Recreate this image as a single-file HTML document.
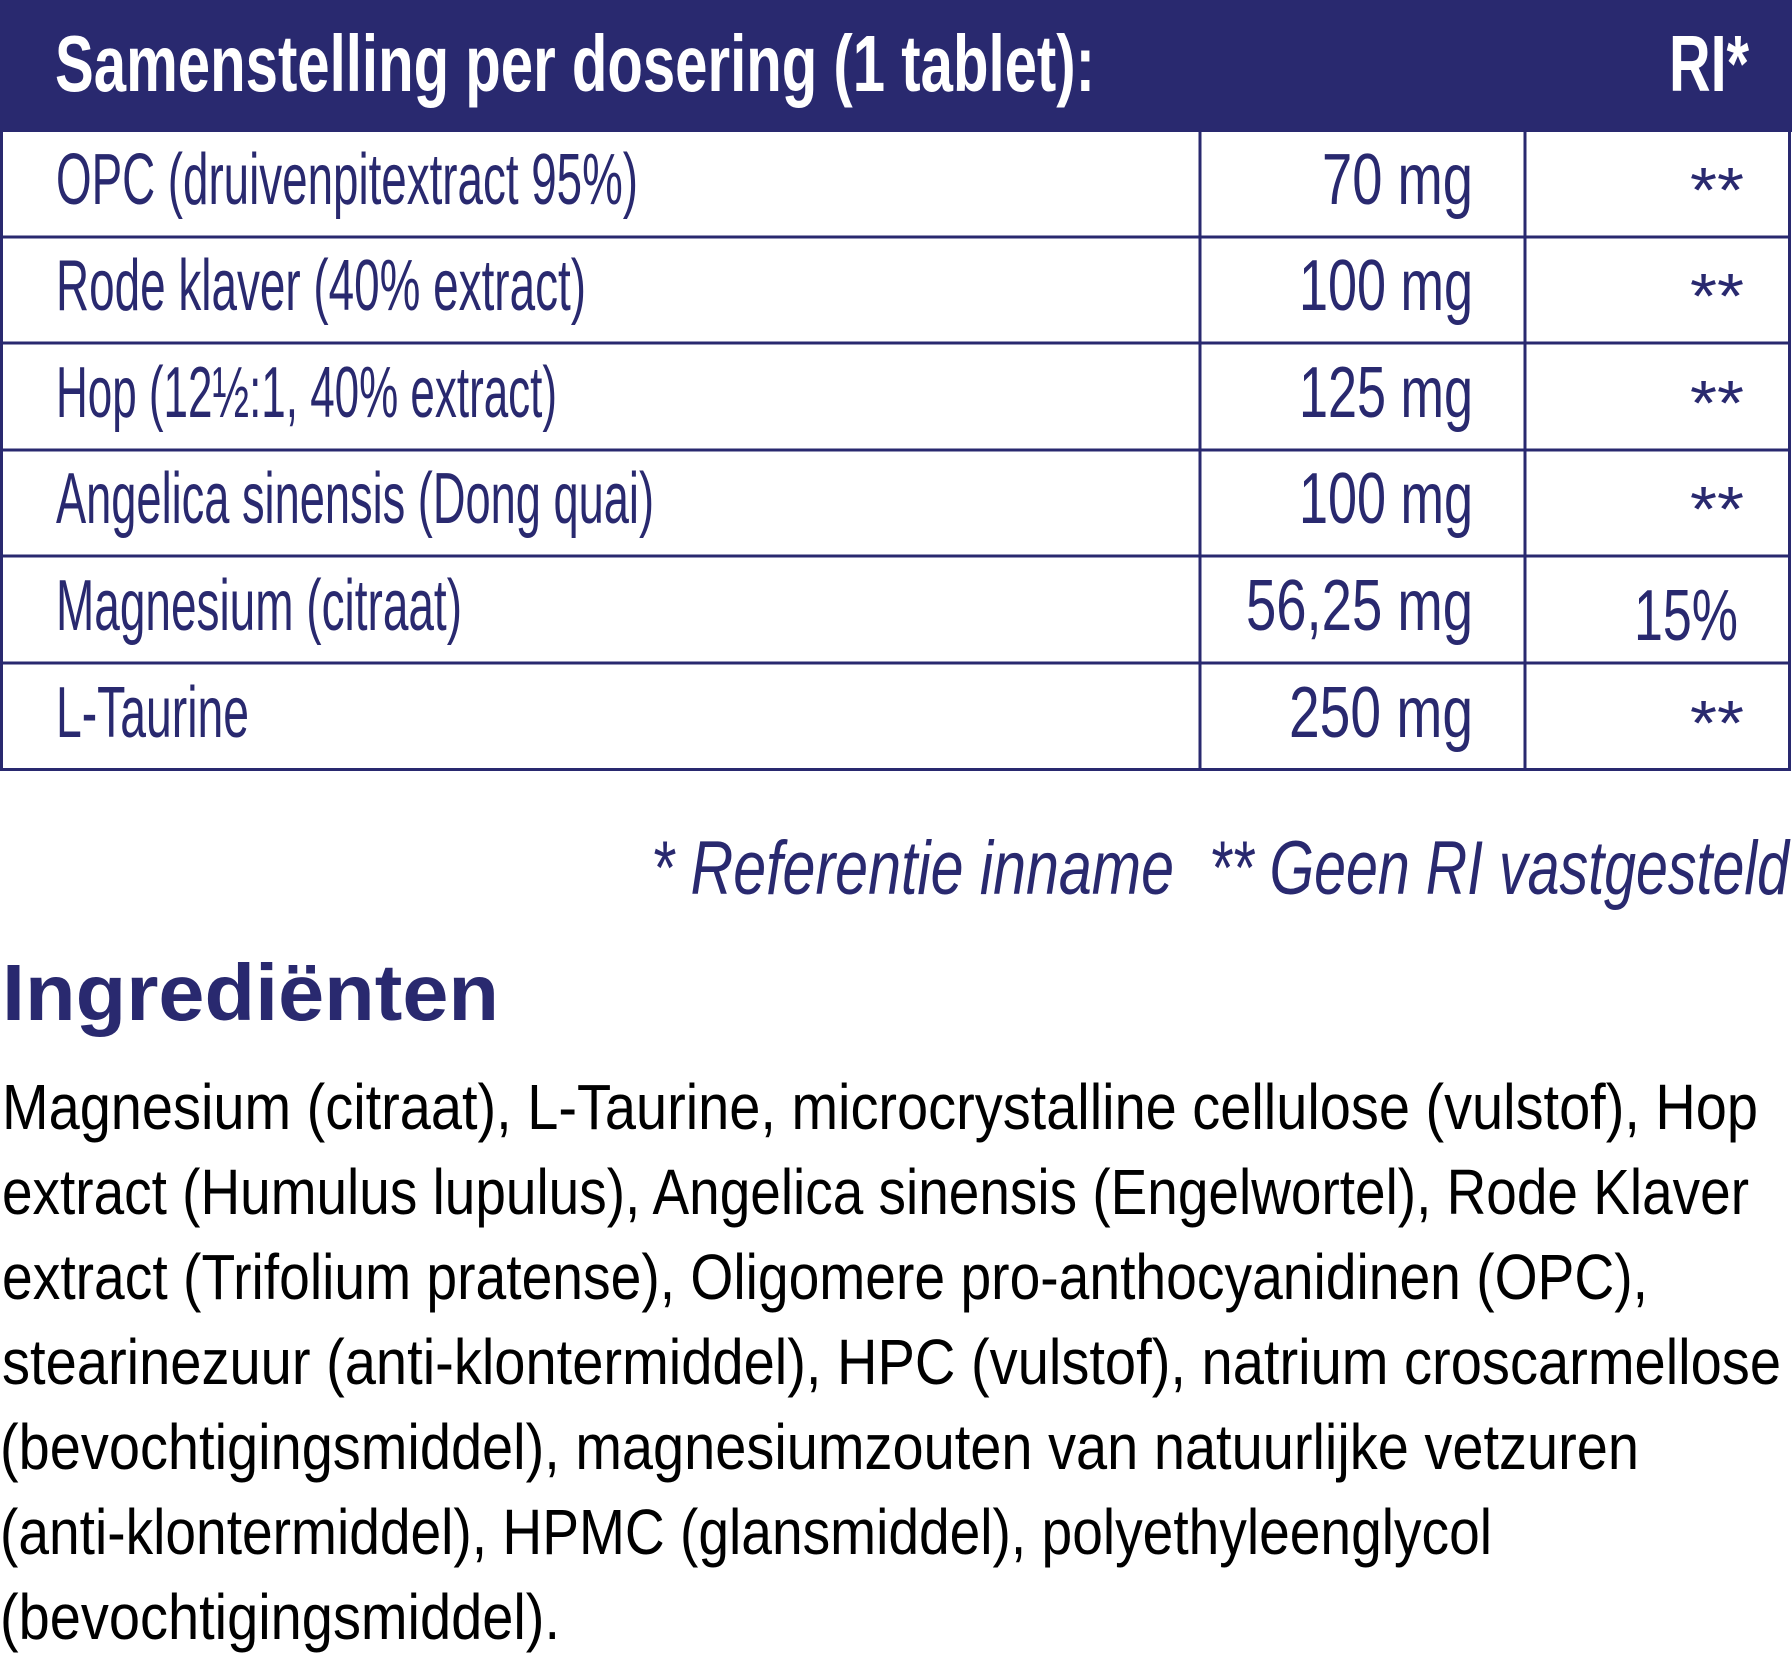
<!DOCTYPE html>
<html><head><meta charset="utf-8"><style>
html,body{margin:0;padding:0;background:#fff;width:1792px;height:1667px;overflow:hidden}
svg{display:block}
text{font-family:"Liberation Sans",sans-serif}
</style></head><body>
<svg width="1792" height="1667" viewBox="0 0 1792 1667" xmlns="http://www.w3.org/2000/svg">
<rect x="0" y="0" width="1792" height="132" fill="#29296f"/>
<g stroke="#29296f" stroke-width="3" fill="none">
<rect x="1.5" y="1.5" width="1788" height="768"/>
<line x1="0" y1="237" x2="1790" y2="237"/>
<line x1="0" y1="343" x2="1790" y2="343"/>
<line x1="0" y1="450" x2="1790" y2="450"/>
<line x1="0" y1="556" x2="1790" y2="556"/>
<line x1="0" y1="663" x2="1790" y2="663"/>
<line x1="1200" y1="132" x2="1200" y2="770"/>
<line x1="1525" y1="132" x2="1525" y2="770"/>
</g>
<g fill="#fff" font-weight="bold" font-size="80">
<text x="55" y="91" textLength="1040" lengthAdjust="spacingAndGlyphs">Samenstelling per dosering (1 tablet):</text>
<text x="1669" y="91" textLength="80" lengthAdjust="spacingAndGlyphs">RI*</text>
</g>
<g fill="#29296f" font-size="72">
<text x="56" y="204" textLength="582" lengthAdjust="spacingAndGlyphs">OPC (druivenpitextract 95%)</text>
<text x="56" y="310" textLength="530" lengthAdjust="spacingAndGlyphs">Rode klaver (40% extract)</text>
<text x="56" y="417" textLength="501" lengthAdjust="spacingAndGlyphs">Hop (12½:1, 40% extract)</text>
<text x="56" y="523" textLength="598" lengthAdjust="spacingAndGlyphs">Angelica sinensis (Dong quai)</text>
<text x="56" y="630" textLength="406" lengthAdjust="spacingAndGlyphs">Magnesium (citraat)</text>
<text x="56" y="737" textLength="193" lengthAdjust="spacingAndGlyphs">L-Taurine</text>
<text x="1322" y="204" textLength="151" lengthAdjust="spacingAndGlyphs">70 mg</text>
<text x="1299" y="310" textLength="174" lengthAdjust="spacingAndGlyphs">100 mg</text>
<text x="1299" y="417" textLength="174" lengthAdjust="spacingAndGlyphs">125 mg</text>
<text x="1299" y="523" textLength="174" lengthAdjust="spacingAndGlyphs">100 mg</text>
<text x="1246" y="630" textLength="227" lengthAdjust="spacingAndGlyphs">56,25 mg</text>
<text x="1289" y="737" textLength="184" lengthAdjust="spacingAndGlyphs">250 mg</text>
<text x="1634" y="640" textLength="104" lengthAdjust="spacingAndGlyphs">15%</text>
</g>
<g fill="#29296f" font-size="64">
<text x="1690" y="212" textLength="54" lengthAdjust="spacingAndGlyphs">**</text>
<text x="1690" y="318" textLength="54" lengthAdjust="spacingAndGlyphs">**</text>
<text x="1690" y="425" textLength="54" lengthAdjust="spacingAndGlyphs">**</text>
<text x="1690" y="531" textLength="54" lengthAdjust="spacingAndGlyphs">**</text>
<text x="1690" y="745" textLength="54" lengthAdjust="spacingAndGlyphs">**</text>
</g>
<g fill="#29296f" font-size="76" font-style="italic">
<text x="651" y="894" textLength="523" lengthAdjust="spacingAndGlyphs">* Referentie inname</text>
<text x="1209" y="894" textLength="580" lengthAdjust="spacingAndGlyphs">** Geen RI vastgesteld</text>
</g>
<text x="2" y="1020" fill="#29296f" font-size="80" font-weight="bold" textLength="497" lengthAdjust="spacingAndGlyphs">Ingrediënten</text>
<g fill="#000" font-size="64">
<text x="2" y="1129" textLength="1756" lengthAdjust="spacingAndGlyphs">Magnesium (citraat), L-Taurine, microcrystalline cellulose (vulstof), Hop</text>
<text x="2" y="1214" textLength="1747" lengthAdjust="spacingAndGlyphs">extract (Humulus lupulus), Angelica sinensis (Engelwortel), Rode Klaver</text>
<text x="2" y="1299" textLength="1646" lengthAdjust="spacingAndGlyphs">extract (Trifolium pratense), Oligomere pro-anthocyanidinen (OPC),</text>
<text x="2" y="1384" textLength="1779" lengthAdjust="spacingAndGlyphs">stearinezuur (anti-klontermiddel), HPC (vulstof), natrium croscarmellose</text>
<text x="0" y="1469" textLength="1639" lengthAdjust="spacingAndGlyphs">(bevochtigingsmiddel), magnesiumzouten van natuurlijke vetzuren</text>
<text x="0" y="1554" textLength="1492" lengthAdjust="spacingAndGlyphs">(anti-klontermiddel), HPMC (glansmiddel), polyethyleenglycol</text>
<text x="0" y="1639" textLength="560" lengthAdjust="spacingAndGlyphs">(bevochtigingsmiddel).</text>
</g>
</svg>
</body></html>
